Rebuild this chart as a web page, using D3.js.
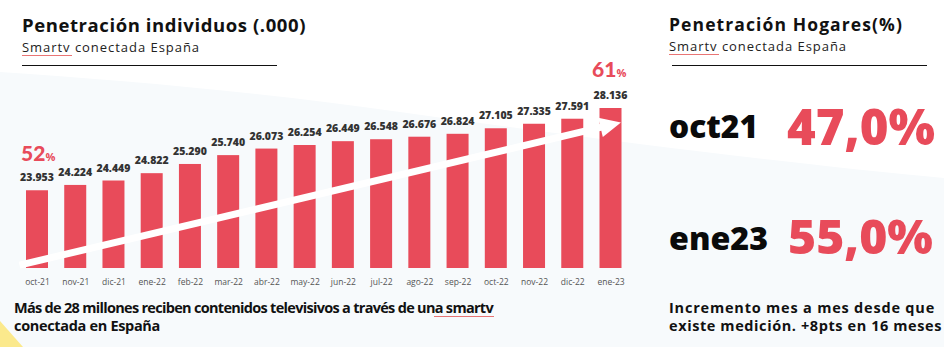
<!DOCTYPE html>
<html>
<head>
<meta charset="utf-8">
<script src="https://cdn.jsdelivr.net/npm/d3@7/dist/d3.min.js"></script>
<style>
  html, body { margin: 0; padding: 0; background: #ffffff; }
  svg { display: block; }
  text { font-family: "Open Sans", Lato, sans-serif; }
</style>
</head>
<body>
<svg id="chart" width="944" height="347"></svg>
<script>
// ---------- data ----------
const months = ["oct-21","nov-21","dic-21","ene-22","feb-22","mar-22","abr-22","may-22","jun-22","jul-22","ago-22","sep-22","oct-22","nov-22","dic-22","ene-23"];
const values = [23953, 24224, 24449, 24822, 25290, 25740, 26073, 26254, 26449, 26548, 26676, 26824, 27105, 27335, 27591, 28136];
const startShare = "52";
const endShare = "61";
const homePeriods = ["oct21", "ene23"];
const homeValues = ["47,0%", "55,0%"];
const arrowFromValue = 20356;   // trend arrow passes the first bar at this level
const arrowToValue = 27150;     // and reaches the last bar at this level

const RED = "#e84b5a";
const svg = d3.select("#chart");
const W = 944, H = 347;

// background
svg.append("rect").attr("width", W).attr("height", H).attr("fill", "#ffffff");
svg.append("path")
  .attr("d", "M0,72 C120,80 260,92 400,112 C600,140 800,165 944,178 L944,347 L0,347 Z")
  .attr("fill", "#f7fafc");
svg.append("path").attr("d", "M0,321 L23,347 L0,347 Z").attr("fill", "#fbe98c");

function fitText(sel, target) {
  const fs = parseFloat(sel.attr("font-size"));
  const w = sel.node().getComputedTextLength();
  if (w > 0) sel.attr("font-size", (fs * target / w).toFixed(2));
  return sel;
}
function fitSpacing(sel, target) {
  const w = sel.node().getComputedTextLength();
  const n = sel.text().length;
  if (w > 0) sel.attr("letter-spacing", ((target - w) / n).toFixed(3));
  return sel;
}
function squiggle(x0, x1, y) {
  let d = `M${x0},${y}`;
  for (let x = x0; x < x1; x += 2) d += ` L${x + 1},${y + 1} L${x + 2},${y}`;
  svg.append("path").attr("d", d).attr("fill", "none").attr("stroke", "#e03a3a").attr("stroke-width", 0.7);
}

// ---------- left panel header ----------
fitSpacing(svg.append("text").attr("x", 22).attr("y", 32).attr("font-size", 18.5)
  .attr("font-weight", 700).attr("fill", "#111").text("Penetración individuos (.000)"), 284);
fitSpacing(svg.append("text").attr("x", 22).attr("y", 52).attr("font-size", 13)
  .attr("fill", "#222").text("Smartv conectada España"), 178);
squiggle(22, 72, 55);
svg.append("line").attr("x1", 22).attr("x2", 277).attr("y1", 65.5).attr("y2", 65.5)
  .attr("stroke", "#111").attr("stroke-width", 1);

// ---------- bars ----------
const x = d3.scalePoint().domain(months).range([37, 610.5]);
const y = d3.scaleLinear().domain([20000, 28136]).range([268, 108]);
const barW = 22;
const fmt = d3.formatLocale({ decimal: ",", thousands: ".", grouping: [3], currency: ["", "€"] }).format(",d");

svg.append("g").selectAll("rect").data(values).join("rect")
  .attr("x", (d, i) => x(months[i]) - barW / 2)
  .attr("y", d => y(d))
  .attr("width", barW)
  .attr("height", d => y.range()[0] - y(d))
  .attr("fill", RED);

svg.append("g").selectAll("text").data(values).join("text")
  .attr("x", (d, i) => x(months[i]))
  .attr("y", d => y(d) - 9)
  .attr("text-anchor", "middle")
  .attr("font-size", 10.5)
  .attr("font-weight", 800)
  .attr("fill", "#333")
  .text(d => fmt(d));

// x axis labels
const xAxis = d3.axisBottom(x).tickSize(0).tickPadding(0);
const gx = svg.append("g").attr("transform", "translate(0,279)").call(xAxis);
gx.select(".domain").remove();
gx.selectAll("text").attr("font-size", 8.5).attr("fill", "#555")
  .attr("font-family", "Lato, sans-serif").attr("dy", "0.71em");

// trend arrow
const p0 = [x(months[0]), y(arrowFromValue)];
const p1 = [x(months[months.length - 1]) - 10, y(arrowToValue)];
const dx = p1[0] - p0[0], dy = p1[1] - p0[1], len = Math.hypot(dx, dy);
const ux = dx / len, uy = dy / len, nx = -uy, ny = ux;
const s0 = [p0[0] - ux * 18, p0[1] - uy * 18];
svg.append("line").attr("x1", s0[0]).attr("y1", s0[1]).attr("x2", p1[0] + ux * 2).attr("y2", p1[1] + uy * 2)
  .attr("stroke", "#ffffff").attr("stroke-width", 7);
const tip = [p1[0] + ux * 21, p1[1] + uy * 21];
svg.append("path")
  .attr("d", `M${tip[0]},${tip[1]} L${p1[0] + nx * 10},${p1[1] + ny * 10} L${p1[0] - nx * 10},${p1[1] - ny * 10} Z`)
  .attr("fill", "#ffffff");

// share annotations
function share(xc, yb, num) {
  const t = svg.append("text").attr("x", xc).attr("y", yb).attr("fill", RED).attr("font-weight", 800);
  t.append("tspan").attr("font-size", 21).attr("font-family", "Lato, sans-serif").attr("font-weight", 900).text(num);
  t.append("tspan").attr("font-size", 11).attr("font-weight", 700).text("%");
}
share(21, 161, startShare);
share(592, 77, endShare);

// left footer
svg.append("text").attr("x", 14).attr("y", 313).attr("font-size", 14.5).attr("font-weight", 700)
  .attr("fill", "#111").text("Más de 28 millones reciben contenidos televisivos a través de una smartv")
  .call(s => fitSpacing(s, 479));
svg.append("text").attr("x", 14).attr("y", 331).attr("font-size", 14.5).attr("font-weight", 700)
  .attr("fill", "#111").text("conectada en España").call(s => fitSpacing(s, 146));
squiggle(434, 493, 316);

// ---------- right panel ----------
fitSpacing(svg.append("text").attr("x", 669).attr("y", 31).attr("font-size", 17.5)
  .attr("font-weight", 700).attr("fill", "#111").text("Penetración Hogares(%)"), 234);
fitSpacing(svg.append("text").attr("x", 669).attr("y", 51).attr("font-size", 13)
  .attr("fill", "#222").text("Smartv conectada España"), 178);
squiggle(669, 719, 54);
svg.append("line").attr("x1", 672).attr("x2", 927).attr("y1", 65.5).attr("y2", 65.5)
  .attr("stroke", "#111").attr("stroke-width", 1);

const rowBase = [138, 250];
const rowNumBase = [145, 254];
const periodW = [89, 99];
const valueX = [787, 788];
const valueW = [148, 145];
homePeriods.forEach((p, i) => {
  fitText(svg.append("text").attr("x", 669).attr("y", rowBase[i]).attr("font-size", 30)
    .attr("font-weight", 800).attr("fill", "#0a0a0a").text(p), periodW[i]);
  fitText(svg.append("text").attr("x", valueX[i]).attr("y", rowNumBase[i]).attr("font-size", 54)
    .attr("font-family", "Lato, sans-serif")
    .attr("font-weight", 900).attr("fill", RED).text(homeValues[i]), valueW[i]);
});

svg.append("text").attr("x", 669).attr("y", 313).attr("font-size", 14.5).attr("font-weight", 700)
  .attr("fill", "#111").text("Incremento mes a mes desde que").call(s => fitSpacing(s, 266));
svg.append("text").attr("x", 669).attr("y", 331).attr("font-size", 14.5).attr("font-weight", 700)
  .attr("fill", "#111").text("existe medición. +8pts en 16 meses").call(s => fitSpacing(s, 273));
</script>
</body>
</html>
